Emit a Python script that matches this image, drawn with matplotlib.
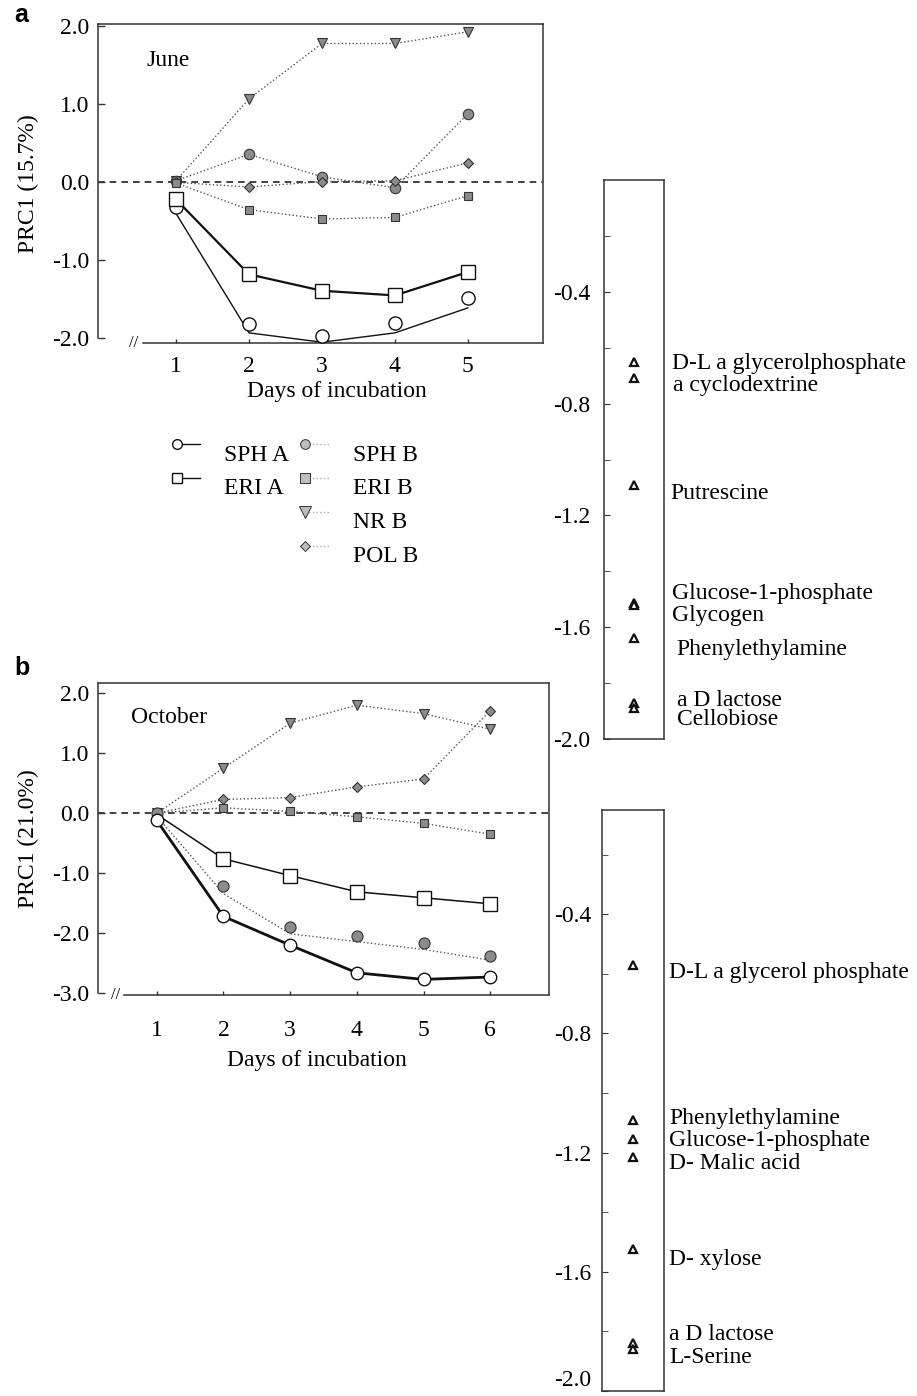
import matplotlib
matplotlib.use("Agg")
import matplotlib.pyplot as plt
from matplotlib.lines import Line2D
from matplotlib.legend_handler import HandlerLine2D
from matplotlib.ticker import FormatStrFormatter

plt.rcParams["font.family"] = ["Liberation Serif", "DejaVu Serif"]
plt.rcParams["axes.unicode_minus"] = False

# ---- data: June (panel a) ----
days_a = [1, 2, 3, 4, 5]
a_sph_a = [-0.32, -1.82, -1.97, -1.80, -1.48]
a_sph_a_line = [-0.40, -1.93, -2.05, -1.93, -1.61]
a_eri_a = [-0.22, -1.18, -1.39, -1.45, -1.15]
a_sph_b = [0.02, 0.36, 0.07, -0.07, 0.88]
a_eri_b = [-0.01, -0.35, -0.47, -0.45, -0.17]
a_nr_b = [0.02, 1.07, 1.78, 1.78, 1.93]
a_pol_b = [0.0, -0.06, 0.01, 0.02, 0.25]

# ---- data: October (panel b) ----
days_b = [1, 2, 3, 4, 5, 6]
b_sph_a = [-0.12, -1.72, -2.20, -2.66, -2.77, -2.73]
b_eri_a = [-0.02, -0.76, -1.04, -1.31, -1.41, -1.51]
b_sph_b = [0.0, -1.22, -1.89, -2.05, -2.17, -2.38]
b_sph_b_line = [-0.05, -1.34, -2.01, -2.14, -2.27, -2.45]
b_eri_b = [0.0, 0.09, 0.03, -0.06, -0.17, -0.35]
b_nr_b = [0.0, 0.75, 1.50, 1.80, 1.66, 1.40]
b_pol_b = [0.0, 0.23, 0.26, 0.44, 0.57, 1.71]

# ---- species weights ----
subs_a = ["D-L a glycerolphosphate", "a cyclodextrine", "Putrescine",
          "Glucose-1-phosphate", "Glycogen", "Phenylethylamine",
          "a D lactose", "Cellobiose"]
scores_a = [-0.65, -0.707, -1.09, -1.514, -1.52, -1.638, -1.871, -1.89]
text_y_a = [-0.658, -0.737, -1.12, -1.478, -1.558, -1.68, -1.862, -1.93]
text_x_a = [1.13, 1.15, 1.10, 1.14, 1.14, 1.21, 1.21, 1.21]

subs_b = ["D-L a glycerol phosphate", "Phenylethylamine", "Glucose-1-phosphate",
          "D- Malic acid", "D- xylose", "a D lactose", "L-Serine"]
scores_b = [-0.571, -1.09, -1.154, -1.216, -1.524, -1.838, -1.86]
text_y_b = [-0.597, -1.086, -1.159, -1.235, -1.557, -1.811, -1.887]

FS = 17
GRAY = "#8c8c8c"
EDGE = "#333333"
DOT = "#555555"

W, H = 917, 1396
fig = plt.figure(figsize=(W / 100, H / 100), dpi=100)


def px_axes(l, t, r, b):
    return fig.add_axes([l / W, 1 - b / H, (r - l) / W, (b - t) / H])


class MarkerFirst(HandlerLine2D):
    # marker at the left end of the handle line, a bit raised
    def create_artists(self, legend, orig_handle, xdescent, ydescent,
                       width, height, fontsize, trans):
        y = (height - ydescent) / 2 + 0.33 * fontsize
        line = Line2D([-xdescent, width - xdescent], [y, y])
        self.update_prop(line, orig_handle, legend)
        line.set_marker("None")
        mk = Line2D([-xdescent], [y])
        self.update_prop(mk, orig_handle, legend)
        mk.set_linestyle("None")
        line.set_transform(trans)
        mk.set_transform(trans)
        return [line, mk]


def style_main(ax, xlim, ylim, low, x0, xticks, xpad):
    ax.set_xlim(*xlim)
    ax.set_ylim(*ylim)
    ax.set_xticks(xticks)
    ax.yaxis.set_major_formatter(FormatStrFormatter("%.1f"))
    ax.tick_params(direction="in", labelsize=FS, color=EDGE, width=1.0)
    ax.tick_params(axis="y", length=5, pad=6)
    ax.tick_params(axis="x", length=3, pad=xpad)
    for s in ax.spines.values():
        s.set_linewidth(1.1)
        s.set_color(EDGE)
    ax.spines["left"].set_bounds(low, ylim[1])
    ax.spines["bottom"].set_bounds(x0, xlim[1])
    ax.axhline(0, color="#222222", lw=1.2, ls=(0, (4, 3)), zorder=1)


def gray_series(ax, x, y, marker, ms, line=None):
    ax.plot(x, y if line is None else line, ls=":", color=DOT, lw=1.0, zorder=2)
    ax.plot(x, y, ls="none", marker=marker, ms=ms, mfc=GRAY, mec=EDGE,
            mew=0.8, zorder=4)


# ---------------- panel a ----------------
ax = px_axes(98, 24, 543, 343)
style_main(ax, (-0.07, 6.03), (-2.06, 2.03), -2.0, 0.55, days_a, 9)
ax.set_yticks([-2, -1, 0, 1, 2])
gray_series(ax, days_a, a_nr_b, "v", 7)
gray_series(ax, days_a, a_sph_b, "o", 7.5)
gray_series(ax, days_a, a_pol_b, "D", 5)
gray_series(ax, days_a, a_eri_b, "s", 5.5)
ax.plot(days_a, a_sph_a_line, color="#111111", lw=1.0, zorder=3)
ax.plot(days_a, a_sph_a, ls="none", marker="o", ms=9.5, mfc="white",
        mec="#111111", mew=1.0, zorder=5)
ax.plot(days_a, a_eri_a, color="#111111", lw=1.6, marker="s", ms=9.5,
        mfc="white", mec="#111111", mew=1.0, zorder=5)
ax.text(0.108, 0.885, "June", transform=ax.transAxes, fontsize=FS,
        va="center", ha="left")
ax.text(0.09, 0.0, "//", transform=ax.transAxes, fontsize=12,
        ha="right", va="center")
ax.set_ylabel("PRC1 (15.7%)", fontsize=FS, va="center")
ax.yaxis.set_label_coords(-0.157, 0.5)
ax.set_xlabel("Days of incubation", fontsize=FS, va="center")
ax.xaxis.set_label_coords(0.537, -0.152)
fig.text(14 / W, 1 - 15 / H, "a", family="Liberation Sans",
         fontweight="bold", fontsize=18, ha="left", va="center")

# legend
h_sph_a = Line2D([], [], color="#111111", lw=1.0, marker="o", ms=7,
                 mfc="white", mec="#111111")
h_eri_a = Line2D([], [], color="#111111", lw=1.0, marker="s", ms=7,
                 mfc="white", mec="#111111")
h_blank = Line2D([], [], color="none")
h_sph_b = Line2D([], [], color="#aaaaaa", lw=1.0, ls=":", marker="o", ms=7,
                 mfc="#bdbdbd", mec=EDGE, mew=0.7)
h_eri_b = Line2D([], [], color="#aaaaaa", lw=1.0, ls=":", marker="s", ms=6.5,
                 mfc="#bdbdbd", mec=EDGE, mew=0.7)
h_nr_b = Line2D([], [], color="#aaaaaa", lw=1.0, ls=":", marker="v", ms=8,
                mfc="#bdbdbd", mec=EDGE, mew=0.7)
h_pol_b = Line2D([], [], color="#aaaaaa", lw=1.0, ls=":", marker="D", ms=5,
                 mfc="#bdbdbd", mec=EDGE, mew=0.7)
handles = [h_sph_a, h_eri_a, h_blank, h_blank, h_sph_b, h_eri_b, h_nr_b, h_pol_b]
labels = ["SPH A", "ERI A", "", "", "SPH B", "ERI B", "NR B", "POL B"]
fig.legend(handles, labels, ncol=2, loc="upper left",
           bbox_to_anchor=(176.7 / W, 1 - 444 / H), frameon=False,
           fontsize=FS, borderpad=0, borderaxespad=0, handlelength=1.0,
           handletextpad=1.0, columnspacing=0.7, labelspacing=0.52,
           handler_map={Line2D: MarkerFirst()})

# ---------------- panel b ----------------
ax = px_axes(98, 683, 549, 995)
style_main(ax, (0.12, 6.88), (-3.03, 2.17), -3.0, 0.51, days_b, 18)
ax.set_yticks([-3, -2, -1, 0, 1, 2])
gray_series(ax, days_b, b_nr_b, "v", 7)
gray_series(ax, days_b, b_pol_b, "D", 5)
gray_series(ax, days_b, b_eri_b, "s", 6)
gray_series(ax, days_b, b_sph_b, "o", 8, line=b_sph_b_line)
ax.plot(days_b, b_eri_a, color="#111111", lw=1.1, marker="s", ms=9.5,
        mfc="white", mec="#111111", mew=1.0, markevery=[1, 2, 3, 4, 5], zorder=5)
ax.plot(days_b, b_sph_a, color="#111111", lw=2.0, marker="o", ms=9,
        mfc="white", mec="#111111", mew=1.0, zorder=5)
ax.text(0.073, 0.888, "October", transform=ax.transAxes, fontsize=FS,
        va="center", ha="left")
ax.text(0.05, 0.0, "//", transform=ax.transAxes, fontsize=12,
        ha="right", va="center")
ax.set_ylabel("PRC1 (21.0%)", fontsize=FS, va="center")
ax.yaxis.set_label_coords(-0.155, 0.5)
ax.set_xlabel("Days of incubation", fontsize=FS, va="center")
ax.xaxis.set_label_coords(0.485, -0.21)
fig.text(14 / W, 1 - 668 / H, "b", family="Liberation Sans",
         fontweight="bold", fontsize=18, ha="left", va="center")


# ---------------- species panels ----------------
def species_panel(box, ylim, scores, names, ty, tx, pad, lift_last=False):
    ax = px_axes(*box)
    ax.set_xlim(0, 1)
    ax.set_ylim(*ylim)
    ax.set_xticks([])
    ax.set_yticks([-0.4, -0.8, -1.2, -1.6, -2.0])
    ax.set_yticks([-0.2, -0.6, -1.0, -1.4, -1.8], minor=True)
    ax.yaxis.set_major_formatter(FormatStrFormatter("%.1f"))
    ax.tick_params(axis="y", which="both", direction="in", length=4,
                   color=EDGE, labelsize=FS, pad=pad)
    for s in ax.spines.values():
        s.set_linewidth(1.1)
        s.set_color(EDGE)
    ax.plot([0.5] * len(scores), scores, ls="none", marker="^", ms=6,
            mfc="white", mec="#111111", mew=1.6, clip_on=False)
    for name, y, x in zip(names, ty, tx):
        ax.text(x, y, name, transform=ax.get_yaxis_transform(),
                fontsize=FS, ha="left", va="center")
    if lift_last:
        ax.yaxis.get_major_ticks()[-1].label1.set_va("bottom")
    return ax


species_panel((604, 180, 664, 739), (-2.0, 0.0), scores_a, subs_a,
              text_y_a, text_x_a, 10)
species_panel((602, 810, 664, 1391), (-2.0, -0.05), scores_b, subs_b,
              text_y_b, [1.085] * len(subs_b), 8, lift_last=True)

fig.savefig("out.png", dpi=100)
